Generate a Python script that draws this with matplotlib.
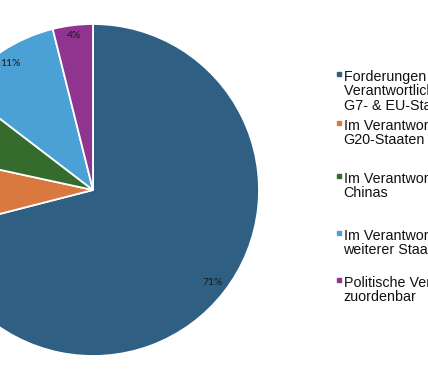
import matplotlib
matplotlib.use("Agg")
from matplotlib import pyplot as plt
from matplotlib.lines import Line2D

# ─── Daten ──────────────────────────────────────────────────────
labels = [
    "Forderungen in\nVerantwortlichkeit der\nG7- & EU-Staaten",
    "Im Verantwortungsbereich der\nG20-Staaten",
    "Im Verantwortungsbereich\nChinas",
    "Im Verantwortungsbereich\nweiterer Staaten",
    "Politische Verantwortung nicht\nzuordenbar",
]
shares = [71.0, 7.4, 7.0, 10.7, 3.9]
colors = ["#2F5F83", "#D9783F", "#356B2D", "#4BA0D6", "#8F3590"]

# ─── Figur ──────────────────────────────────────────────────────
W, H = 428, 388
fig = plt.figure(figsize=(W / 100, H / 100), dpi=100)
cx, cy, r = 93, 198, 166   # Mittelpunkt (px von unten) und Radius
lim = 1.02
ax = fig.add_axes([(cx - r * lim) / W, (cy - r * lim) / H,
                   2 * r * lim / W, 2 * r * lim / H])

wedges, texts, autotexts = ax.pie(
    shares, colors=colors, startangle=90, counterclock=False,
    autopct="%.0f%%", pctdistance=0.91,
    wedgeprops=dict(edgecolor="white", linewidth=1.3),
    textprops=dict(fontsize=7.5, family="Lato", color="#1a1a1a"),
)
# kleines Label etwas weiter nach außen
x, y = autotexts[-1].get_position()
autotexts[-1].set_position((x * 0.935 / 0.91, y * 0.935 / 0.91))

ax.set_xlim(-lim, lim)
ax.set_ylim(-lim, lim)
ax.set_aspect("equal")

# ─── Legende (Marker auf Höhe der ersten Zeile) ─────────────────
leg_x = 343.5
line_step = 14.7
leg_baselines = [80.7, 129.7, 182.7, 239.7, 286.7]   # erste Zeile, px von oben
for lab, col, yb in zip(labels, colors, leg_baselines):
    n = lab.count("\n")
    # va="baseline" richtet die letzte Zeile aus
    fig.text(leg_x / W, 1 - (yb + n * line_step) / H, lab,
             ha="left", va="baseline",
             family="Liberation Sans", fontsize=10.3, linespacing=1.06,
             color="#111111")
    fig.add_artist(Line2D([338.5 / W], [1 - (yb - 6.4) / H],
                          transform=fig.transFigure, marker="s",
                          linestyle="none", markersize=3.5,
                          markerfacecolor=col, markeredgecolor=col))

fig.savefig("out.png", dpi=100)
